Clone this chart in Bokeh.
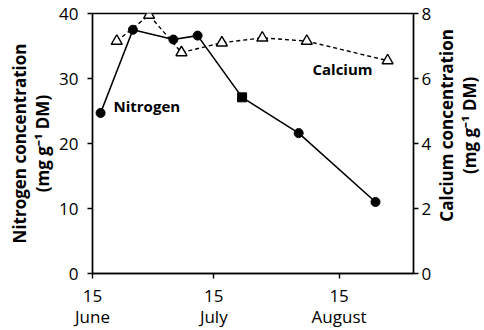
import math
from bokeh.plotting import figure
from bokeh.layouts import row
from bokeh.models import Range1d, LinearAxis, FixedTicker, Label, ColumnDataSource
from bokeh.embed import file_html
from bokeh.resources import INLINE

# ---- data (x = days after 15 June) ----
n_days = [2, 10, 20, 26, 37, 51, 70]
n_vals = [24.7, 37.5, 36.0, 36.6, 27.1, 21.6, 11.0]
ca_days = [6, 14, 22, 32, 42, 53, 73]
ca_vals = [7.15, 7.95, 6.8, 7.1, 7.25, 7.15, 6.55]
x_ticks = [0, 30, 61]
x_day_labels = ["15", "15", "15"]
x_month_labels = ["June", "July", "August"]
n_ticks = [0, 10, 20, 30, 40]
ca_ticks = [0, 2, 4, 6, 8]

n_markers = ["circle", "circle", "circle", "circle", "square", "circle", "circle"]

FONT = "Open Sans"
MAIN_W = 434
H = 330

p = figure(width=MAIN_W, height=H, output_backend="svg", toolbar_location=None,
           x_range=Range1d(0, 79.4), y_range=Range1d(0, 40),
           min_border_left=92, min_border_right=19, min_border_top=13, min_border_bottom=57)
p.extra_y_ranges = {"ca": Range1d(0, 8)}

p.grid.visible = False
p.outline_line_color = "black"
p.outline_line_width = 1.4
p.background_fill_color = "white"
p.border_fill_color = "white"


def style(ax, standoff):
    ax.axis_line_width = 1.4
    ax.major_tick_line_width = 1.4
    ax.major_tick_in = 0
    ax.major_tick_out = 5
    ax.minor_tick_line_color = None
    ax.major_label_text_font = FONT
    ax.major_label_text_font_size = "17px"
    ax.major_label_text_color = "black"
    ax.major_label_standoff = standoff
    ax.axis_label_text_font = FONT
    ax.axis_label_text_font_size = "17px"
    ax.axis_label_text_font_style = "bold"
    ax.axis_label_text_color = "black"
    ax.axis_label_text_line_height = 1.0


style(p.xaxis[0], 11)
p.xaxis.ticker = FixedTicker(ticks=x_ticks)
p.xaxis.major_label_overrides = {t: l for t, l in zip(x_ticks, x_day_labels)}

style(p.yaxis[0], 9)
p.yaxis.ticker = FixedTicker(ticks=n_ticks)
p.yaxis.axis_label = "Nitrogen concentration\n(mg g\u207b\u00b9 DM)"
p.yaxis.axis_label_standoff = 2

# month names on a second bottom axis
mx = LinearAxis(ticker=FixedTicker(ticks=x_ticks))
style(mx, 0)
mx.axis_line_color = None
mx.major_tick_line_color = None
mx.major_tick_out = 0
mx.major_label_overrides = {t: l for t, l in zip(x_ticks, x_month_labels)}
p.add_layout(mx, "below")

ra = LinearAxis(y_range_name="ca", ticker=FixedTicker(ticks=ca_ticks))
style(ra, 3)
p.add_layout(ra, "right")

# calcium (dashed, open triangles)
ca_src = ColumnDataSource(dict(x=ca_days, y=ca_vals))
p.line("x", "y", source=ca_src, y_range_name="ca", line_color="black",
       line_width=1.4, line_dash="4 3")
p.scatter("x", "y", source=ca_src, y_range_name="ca", marker="triangle", size=11,
          fill_color="white", line_color="black", line_width=1.4)

# nitrogen (solid, filled circles)
n_src = ColumnDataSource(dict(x=n_days, y=n_vals, m=n_markers))
p.line("x", "y", source=n_src, line_color="black", line_width=1.6)
p.scatter("x", "y", source=n_src, marker="m", size=9,
          fill_color="black", line_color="black")

# series labels
for lx, ly, txt in [(5.2, 25.8, "Nitrogen"), (54.4, 31.5, "Calcium")]:
    p.add_layout(Label(x=lx, y=ly, text=txt, text_font=FONT, text_font_size="15px",
                       text_font_style="bold", text_color="black",
                       text_baseline="middle", text_align="left"))

# right-hand axis title panel (reads bottom-to-top, like the left one)
side_w = 484 - MAIN_W
q = figure(width=side_w, height=H, output_backend="svg", toolbar_location=None,
           x_range=Range1d(0, side_w), y_range=Range1d(0, H),
           min_border=0, x_axis_type=None, y_axis_type=None)
q.grid.visible = False
q.outline_line_color = None
q.background_fill_color = "white"
q.border_fill_color = "white"
q.add_layout(Label(x=23, y=H - 142, text="Calcium concentration\n(mg g\u207b\u00b9 DM)",
                   angle=math.pi / 2, text_font=FONT, text_font_size="17px",
                   text_font_style="bold", text_color="black", text_line_height=1.0,
                   text_align="center", text_baseline="middle"))

layout = row(p, q, spacing=0)
open("out.html", "w").write(file_html(layout, INLINE))
